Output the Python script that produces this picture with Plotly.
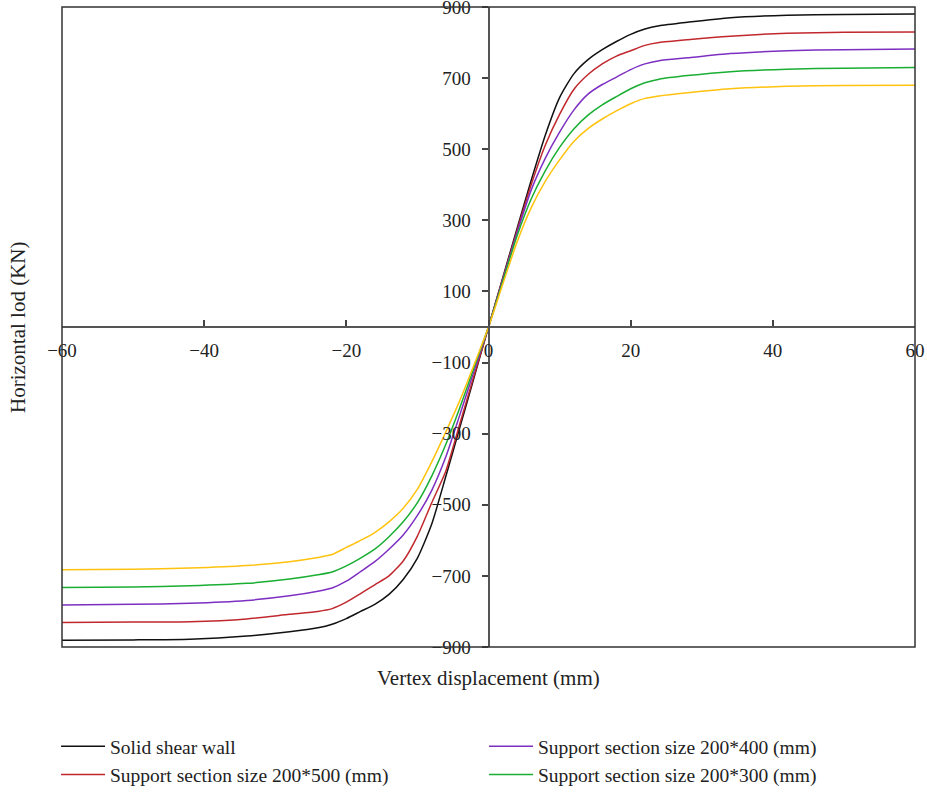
import plotly.graph_objects as go

# Vertex displacement (mm): loading branch (positive) and reversed branch (negative)
disp_pos = [0, 2, 4, 6, 8, 10, 12, 14, 16, 18, 20, 22, 24, 28, 34, 42, 50, 60]
disp_neg = [0, -2, -4, -6, -8, -10, -12, -14, -16, -18, -20, -22, -24, -28, -34, -42, -50, -60]

# Horizontal load (kN) for each model
solid_pos = [0, 138, 276, 412, 540, 645, 712, 752, 780, 803, 823, 838, 847, 857, 870, 877, 879, 880]
solid_neg = [0, -140, -280, -420, -555, -650, -710, -752, -780, -800, -820, -836, -846, -857, -869, -878, -880, -881]

s500_pos = [0, 135, 270, 400, 512, 598, 668, 710, 740, 762, 777, 792, 800, 808, 818, 826, 829, 830]
s500_neg = [0, -135, -270, -405, -495, -588, -658, -700, -725, -750, -774, -792, -800, -808, -821, -829, -830, -831]

s400_pos = [0, 132, 264, 385, 475, 548, 610, 655, 682, 703, 724, 740, 749, 757, 769, 777, 780, 782]
s400_neg = [0, -122, -245, -365, -460, -530, -585, -625, -660, -688, -715, -734, -743, -756, -769, -777, -780, -782]

s300_pos = [0, 128, 255, 360, 440, 505, 557, 596, 625, 648, 670, 687, 697, 707, 718, 725, 728, 730]
s300_neg = [0, -112, -225, -330, -420, -494, -548, -590, -625, -650, -672, -689, -697, -709, -721, -728, -731, -733]

s200_pos = [0, 120, 238, 335, 410, 470, 522, 558, 585, 608, 628, 643, 650, 659, 670, 677, 679, 680]
s200_neg = [0, -105, -205, -295, -380, -456, -510, -548, -578, -600, -620, -640, -648, -660, -671, -678, -681, -683]

y_ticks = [900, 700, 500, 300, 100, -100, -300, -500, -700, -900]
x_ticks = [-60, -40, -20, 0, 20, 40, 60]


def fmt(v):
    return str(v).replace("-", "\u2212")


series = [
    ("Solid shear wall", solid_neg, solid_pos, "#111111", 1, True),
    ("Support section size 200*500 (mm)", s500_neg, s500_pos, "#c0282d", 3, True),
    ("Support section size 200*400 (mm)", s400_neg, s400_pos, "#7d2fc2", 2, True),
    ("Support section size 200*300 (mm)", s300_neg, s300_pos, "#1aae32", 4, True),
    ("Support section size 200*200 (mm)", s200_neg, s200_pos, "#ffc20e", 5, False),
]

FONT = "Liberation Serif"
TXT = "#222222"

fig = go.Figure()
for name, neg, pos, color, rank, show in series:
    xs = disp_neg[::-1] + disp_pos[1:]
    ys = neg[::-1] + pos[1:]
    fig.add_trace(go.Scatter(
        x=xs, y=ys, mode="lines", name=name,
        line=dict(color=color, width=1.5, shape="spline", smoothing=0.6),
        legendrank=rank, showlegend=show,
    ))

fig.update_layout(
    width=927, height=792,
    margin=dict(l=62, r=12, t=7, b=145, autoexpand=False),
    paper_bgcolor="white", plot_bgcolor="white",
    font=dict(family=FONT, size=19, color=TXT),
    showlegend=True,
    legend=dict(
        orientation="h", x=-0.007, xanchor="left", y=-0.125, yanchor="top",
        font=dict(family=FONT, size=19.5, color=TXT),
        entrywidth=369, entrywidthmode="pixels", itemwidth=44,
        traceorder="normal", bgcolor="rgba(0,0,0,0)",
    ),
    xaxis=dict(
        range=[-60, 60], anchor="free", position=0.5,
        tickvals=x_ticks, ticktext=[fmt(v) for v in x_ticks],
        ticks="inside", ticklen=6, tickwidth=1.5, tickcolor="#444444",
        showline=True, linecolor="#555555", linewidth=2,
        showgrid=False, zeroline=False, ticklabelstandoff=6,
        ticklabeloverflow="allow",
    ),
    yaxis=dict(
        range=[-900, 900], anchor="free", position=0.5,
        tickvals=y_ticks, ticktext=[fmt(v) for v in y_ticks],
        ticks="outside", ticklen=6, tickwidth=1.5, tickcolor="#444444",
        showline=True, linecolor="#555555", linewidth=2,
        showgrid=False, zeroline=False, ticklabelstandoff=7,
        ticklabeloverflow="allow",
    ),
    shapes=[dict(type="rect", xref="paper", yref="paper", x0=0, x1=1, y0=0, y1=1,
                 line=dict(color="#333333", width=1.5), fillcolor="rgba(0,0,0,0)")],
    annotations=[
        dict(text="Vertex displacement (mm)", xref="paper", yref="paper",
             x=0.5, y=-0.048, xanchor="center", yanchor="middle",
             showarrow=False, font=dict(family=FONT, size=21, color=TXT)),
        dict(text="Horizontal lod (KN)", xref="paper", yref="paper",
             x=-0.0516, y=0.5, xanchor="center", yanchor="middle", textangle=-90,
             showarrow=False, font=dict(family=FONT, size=21, color=TXT)),
    ],
)

fig.write_html("out.html")
